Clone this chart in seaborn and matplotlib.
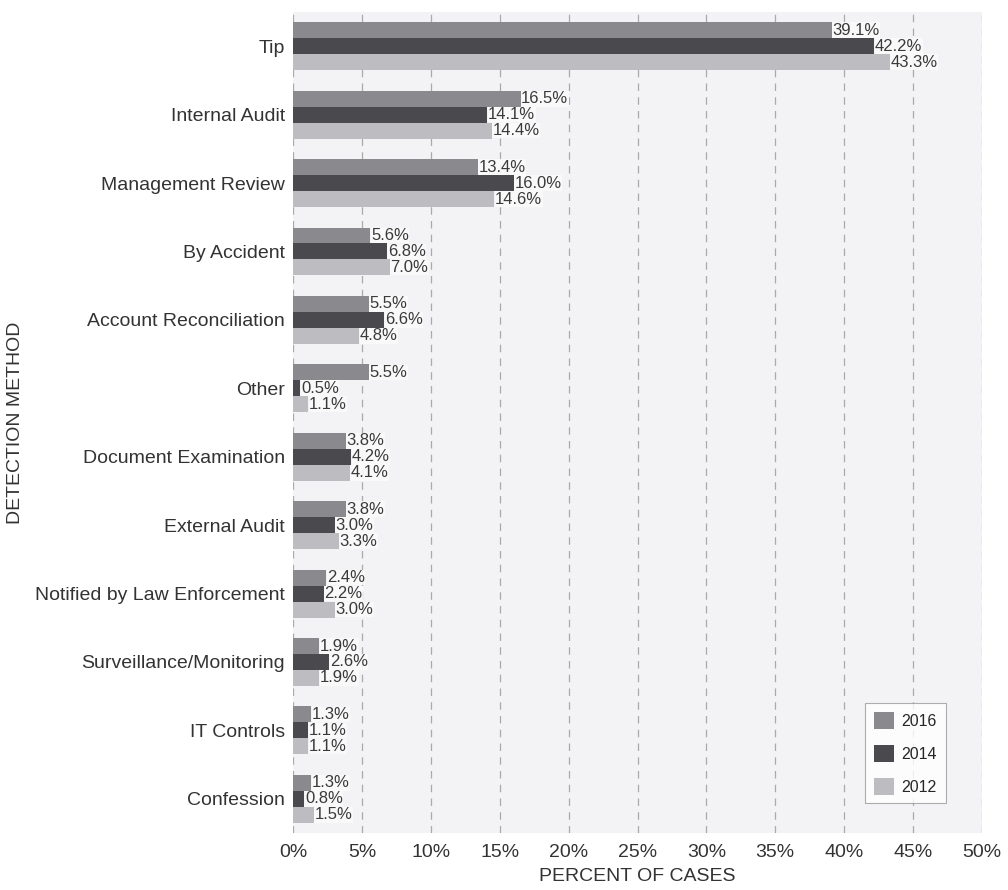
import matplotlib
matplotlib.use("Agg")
import matplotlib.pyplot as plt
import seaborn as sns
import pandas as pd

methods = ["Tip", "Internal Audit", "Management Review", "By Accident",
           "Account Reconciliation", "Other", "Document Examination",
           "External Audit", "Notified by Law Enforcement",
           "Surveillance/Monitoring", "IT Controls", "Confession"]
years = ["2016", "2014", "2012"]
v2016 = [39.1, 16.5, 13.4, 5.6, 5.5, 5.5, 3.8, 3.8, 2.4, 1.9, 1.3, 1.3]
v2014 = [42.2, 14.1, 16.0, 6.8, 6.6, 0.5, 4.2, 3.0, 2.2, 2.6, 1.1, 0.8]
v2012 = [43.3, 14.4, 14.6, 7.0, 4.8, 1.1, 4.1, 3.3, 3.0, 1.9, 1.1, 1.5]
xticks = [0, 5, 10, 15, 20, 25, 30, 35, 40, 45, 50]

rows = []
for yr, vals in zip(years, [v2016, v2014, v2012]):
    for m, v in zip(methods, vals):
        rows.append({"method": m, "year": yr, "value": v})
df = pd.DataFrame(rows)

sns.set_theme(style="white")
plt.rcParams['font.family'] = ['Liberation Sans', 'DejaVu Sans']

fig = plt.figure(figsize=(10.08, 8.9), dpi=100)
ax = fig.add_axes([0.291, 0.064, 0.683, 0.9225])
ax.set_facecolor("#f3f3f5")

palette = {"2016": "#8a8a8e", "2014": "#4a494e", "2012": "#bdbdc1"}
sns.barplot(data=df, y="method", x="value", hue="year", order=methods,
            hue_order=years, palette=palette, orient="h", width=0.7,
            saturation=1, ax=ax, errorbar=None, linewidth=0, zorder=3)

for c in ax.containers:
    for bar in c:
        w = bar.get_width()
        ax.text(w + 0.05, bar.get_y() + bar.get_height() / 2, f"{w:.1f}%",
                va="center", ha="left", fontsize=12, color="#3a3a3a",
                zorder=4,
                bbox=dict(facecolor="#fafafa", edgecolor="none", pad=0.2, alpha=0.9))

ax.set_xlim(0, 50)
ax.set_xticks(xticks)
ax.set_xticklabels([f"{t}%" for t in xticks], fontsize=14, color="#333333")
ax.tick_params(axis="y", labelsize=14, labelcolor="#333333", length=0, pad=6)
ax.tick_params(axis="x", length=0, pad=8)
ax.grid(axis="x", color="#aaaaaa", linestyle=(0, (6, 5)), linewidth=0.9, zorder=0)
ax.grid(axis="y", visible=False)
for s in ax.spines.values():
    s.set_visible(False)

ax.set_xlabel("PERCENT OF CASES", fontsize=14, color="#333333", labelpad=5)
ax.set_ylabel("DETECTION METHOD", fontsize=14, color="#333333", labelpad=8)

leg = ax.legend(loc="lower right", bbox_to_anchor=(0.948, 0.036), title=None,
                fontsize=11.5, frameon=True, fancybox=False, edgecolor="#999999",
                handlelength=1.25, handleheight=1.25, labelspacing=1.0,
                borderpad=0.55, handletextpad=0.5, borderaxespad=0)
leg.get_frame().set_facecolor("white")
leg.get_frame().set_linewidth(0.8)

fig.savefig("out.png", dpi=100)
